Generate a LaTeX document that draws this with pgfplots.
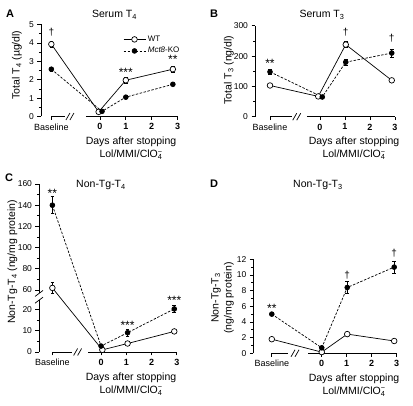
\documentclass[border=0pt]{standalone}
\usepackage{fontspec}
\setmainfont{Liberation Sans}
\usepackage{pgfplots}
\pgfplotsset{compat=1.18}

\newcommand{\lab}{\fontsize{10.5}{13}\selectfont}
\newcommand{\tks}{\fontsize{8.5}{10}\selectfont}
\newcommand{\tkx}{\fontsize{9}{10}\selectfont}
\newcommand{\ann}{\fontsize{12}{12}\selectfont}
\newcommand{\dgf}{\fontsize{10}{10}\selectfont}
\newcommand{\clo}{ClO\rlap{\textsuperscript{\char"2212}}\textsubscript{4}}
\newcommand{\xbrk}[1]{%
  \draw[line width=0.7pt] (axis cs:#1,0) ++(-4pt,-3.5pt) -- ++(4pt,7pt);
  \draw[line width=0.7pt] (axis cs:#1,0) ++(0pt,-3.5pt) -- ++(4pt,7pt);}

\pgfplotsset{
 panel/.style={
   scale only axis, anchor=south west, clip=false,
   axis lines*=left,
   x axis line style={draw=none},
   y axis line style={line width=0.7pt},
   tick align=outside,
   major tick length=3.5pt, minor tick length=2pt,
   tick style={line width=0.7pt, black},
   enlargelimits=false,
   /pgf/number format/assume math mode=true,
   yticklabel style={font=\tks},
   xticklabel style={font=\tkx},
   minor y tick num=1,
   xtick pos=bottom, ytick pos=left,
 },
 wt/.style={black, solid, line width=0.7pt, mark=*, mark size=2.8pt,
   mark options={fill=white, solid},
   error bars/.cd, y dir=both, y explicit,
   error bar style={solid, line width=0.6pt},
   error mark options={rotate=90, mark size=1.8pt, line width=0.6pt, solid}},
 ko/.style={black, dash pattern=on 2.5pt off 1.5pt, line width=0.7pt, mark=*, mark size=2.4pt,
   mark options={fill=black, solid},
   error bars/.cd, y dir=both, y explicit,
   error bar style={solid, line width=0.6pt},
   error mark options={rotate=90, mark size=1.8pt, line width=0.6pt, solid}},
}

\begin{document}
\begin{tikzpicture}
\useasboundingbox (0,0) rectangle (413pt,406pt);

% ---------------- Panel A ----------------
\begin{axis}[panel, at={(41pt,289.5pt)}, width=136.5pt, height=92pt,
  xmin=-2.28, xmax=3, ymin=0, ymax=5,
  xtick={-1.88,0,1,2,3},
  xticklabels={Baseline,\textbf{0},\textbf{1},\textbf{2},\textbf{3}},
  ytick={0,1,2,3,4,5},
  legend style={at={(axis cs:0.89,4.5)}, anchor=north west, draw=none, fill=none,
    font=\fontsize{8}{9}\selectfont, inner sep=0pt, row sep=0.5pt, cells={anchor=west}},
  legend image code/.code={\draw[mark repeat=2,mark phase=2,#1] plot coordinates {(0pt,0pt) (11pt,0pt) (22pt,0pt)};},
]
\addplot+[wt] coordinates {(-1.88,3.93) +- (0,0.15) (-0.05,0.25) +- (0,0.03) (1.0,1.97) +- (0,0.15) (2.82,2.57) +- (0,0.15)};
\addlegendentry{WT}
\addplot+[ko] coordinates {(-1.88,2.57) +- (0,0.13) (0.08,0.28) +- (0,0.03) (1.0,1.05) +- (0,0.05) (2.82,1.75) +- (0,0.06)};
\addlegendentry{\textit{Mct8}-KO}
\draw[line width=0.7pt] (axis cs:-1.88,0) -- (axis cs:-1.35,0);
\xbrk{-1.16}
\draw[line width=0.7pt] (axis cs:-0.54,0) -- (axis cs:3,0);
\node[font=\dgf] at (axis cs:-1.88,4.6) {†};
\node[font=\ann] at (axis cs:1.0,2.38) {***};
\node[font=\ann] at (axis cs:2.82,3.1) {**};
\end{axis}

% ---------------- Panel B ----------------
\begin{axis}[panel, at={(255pt,289.3pt)}, width=140pt, height=90.9pt,
  xmin=-2.6, xmax=3, ymin=0, ymax=300,
  xtick={-2,0,1,2,3},
  xticklabels={Baseline,\textbf{0},\textbf{1},\textbf{2},\textbf{3}},
  ytick={0,100,200,300},
]
\addplot+[wt] coordinates {(-2.0,103) +- (0,4) (-0.07,67) +- (0,3) (1.03,238) +- (0,10) (2.87,120) +- (0,6)};
\addplot+[ko] coordinates {(-2.0,148) +- (0,8) (0.09,65) +- (0,4) (1.03,180) +- (0,10) (2.87,210) +- (0,14)};
\draw[line width=0.7pt] (axis cs:-2.0,0) -- (axis cs:-1.13,0);
\xbrk{-0.93}
\draw[line width=0.7pt] (axis cs:-0.53,0) -- (axis cs:3,0);
\node[font=\ann] at (axis cs:-2.0,176) {**};
\node[font=\dgf] at (axis cs:1.03,280) {†};
\node[font=\dgf] at (axis cs:2.87,259) {†};
\end{axis}

% ---------------- Panel C (broken y axis) ----------------
% values above the break are drawn at half scale, so their error bars
% (applied after the transformation) are given at half size: 8 -> 4, 5 -> 2.5
\begin{axis}[panel, at={(39pt,54pt)}, width=137.8pt, height=168pt,
  xmin=-2.46, xmax=3, ymin=0, ymax=160,
  y coord trafo/.code={\pgfmathparse{#1>40 ? 29.2+(#1-60)/2 : #1}},
  y coord inv trafo/.code={\pgfmathparse{#1>24.6 ? 60+2*(#1-29.2) : #1}},
  xtick={-1.93,0,1,2,3},
  xticklabels={Baseline,\textbf{0},\textbf{1},\textbf{2},\textbf{3}},
  ytick={0,10,20,60,80,100,120,140,160},
  yticklabels={0,10,20,60,80,100,120,140,160},
  minor ytick={5,15,70,90,110,130,150},
]
\addplot+[wt] coordinates {(-1.93,62) +- (0,2.5) (0.05,1.0) +- (0,0.3) (1.05,4.0) +- (0,0.4) (2.9,9.7) +- (0,0.5)};
\addplot+[ko] coordinates {(-1.93,140) +- (0,4) (0.0,2.8) +- (0,0.5) (1.05,9.1) +- (0,1.5) (2.9,20.3) +- (0,1.5)};
\draw[line width=0.7pt] (axis cs:-1.93,0) -- (axis cs:-1.16,0);
\xbrk{-0.93}
\draw[line width=0.7pt] (axis cs:-0.5,0) -- (axis cs:3,0);
\draw[white, line width=2.5pt] (axis cs:-2.46,24.4) -- (axis cs:-2.46,27.6);
\draw[line width=0.7pt] (axis cs:-2.46,24.4) ++(-4pt,-3pt) -- ++(8pt,6pt);
\draw[line width=0.7pt] (axis cs:-2.46,27.6) ++(-4pt,-3pt) -- ++(8pt,6pt);
\node[font=\ann] at (axis cs:-1.93,151) {**};
\node[font=\ann] at (axis cs:1.05,12.4) {***};
\node[font=\ann] at (axis cs:2.9,24.5) {***};
\end{axis}

% ---------------- Panel D ----------------
\begin{axis}[panel, at={(253.3pt,52.7pt)}, width=143.4pt, height=94pt,
  xmin=-2.74, xmax=3, ymin=0, ymax=12,
  xtick={-2,0,1,2,3},
  xticklabels={Baseline,\textbf{0},\textbf{1},\textbf{2},\textbf{3}},
  ytick={0,2,4,6,8,10,12},
]
\addplot+[wt] coordinates {(-2.0,1.8) +- (0,0.1) (0.0,0.15) +- (0,0.05) (1.02,2.45) +- (0,0.1) (2.9,1.57) +- (0,0.1)};
\addplot+[ko] coordinates {(-2.0,5.0) +- (0,0.15) (0.0,0.7) +- (0,0.2) (1.02,8.4) +- (0,0.75) (2.9,11.0) +- (0,0.8)};
\draw[line width=0.7pt] (axis cs:-2.0,0) -- (axis cs:-1.34,0);
\xbrk{-1.07}
\draw[line width=0.7pt] (axis cs:-0.54,0) -- (axis cs:3,0);
\node[font=\ann] at (axis cs:-2.0,5.75) {**};
\node[font=\dgf] at (axis cs:1.02,10.0) {†};
\node[font=\dgf] at (axis cs:2.9,12.8) {†};
\end{axis}

% ---------------- Texts ----------------
\begin{scope}[every node/.style={inner sep=0pt}]
\node[font=\bfseries\fontsize{11}{12}\selectfont] at (10pt,392pt) {A};
\node[font=\bfseries\fontsize{11}{12}\selectfont] at (214pt,392pt) {B};
\node[font=\bfseries\fontsize{11}{12}\selectfont] at (9pt,228pt) {C};
\node[font=\bfseries\fontsize{11}{12}\selectfont] at (214pt,222pt) {D};

\node[font=\lab] at (114.5pt,391pt) {Serum T\textsubscript{4}};
\node[font=\lab] at (322pt,391pt) {Serum T\textsubscript{3}};
\node[font=\lab] at (101pt,221pt) {Non-Tg-T\textsubscript{4}};
\node[font=\lab] at (318pt,221pt) {Non-Tg-T\textsubscript{3}};

\node[font=\lab, align=center] at (131pt,257.5pt) {Days after stopping\\Lol/MMI/\clo};
\node[font=\lab, align=center] at (354pt,257.5pt) {Days after stopping\\Lol/MMI/\clo};
\node[font=\lab, align=center] at (131pt,22pt) {Days after stopping\\Lol/MMI/\clo};
\node[font=\lab, align=center] at (354pt,21pt) {Days after stopping\\Lol/MMI/\clo};

\node[font=\lab, rotate=90] at (17pt,341pt) {Total T\textsubscript{4} (µg/dl)};
\node[font=\lab, rotate=90] at (229pt,336pt) {Total T\textsubscript{3} (ng/dl)};
\node[font=\lab, rotate=90] at (12.5pt,144pt) {Non-Tg-T\textsubscript{4} (ng/mg protein)};
\node[font=\lab, rotate=90, align=center] at (222.5pt,108pt) {Non-Tg-T\textsubscript{3}\\(ng/mg protein)};
\end{scope}
\end{tikzpicture}
\end{document}
